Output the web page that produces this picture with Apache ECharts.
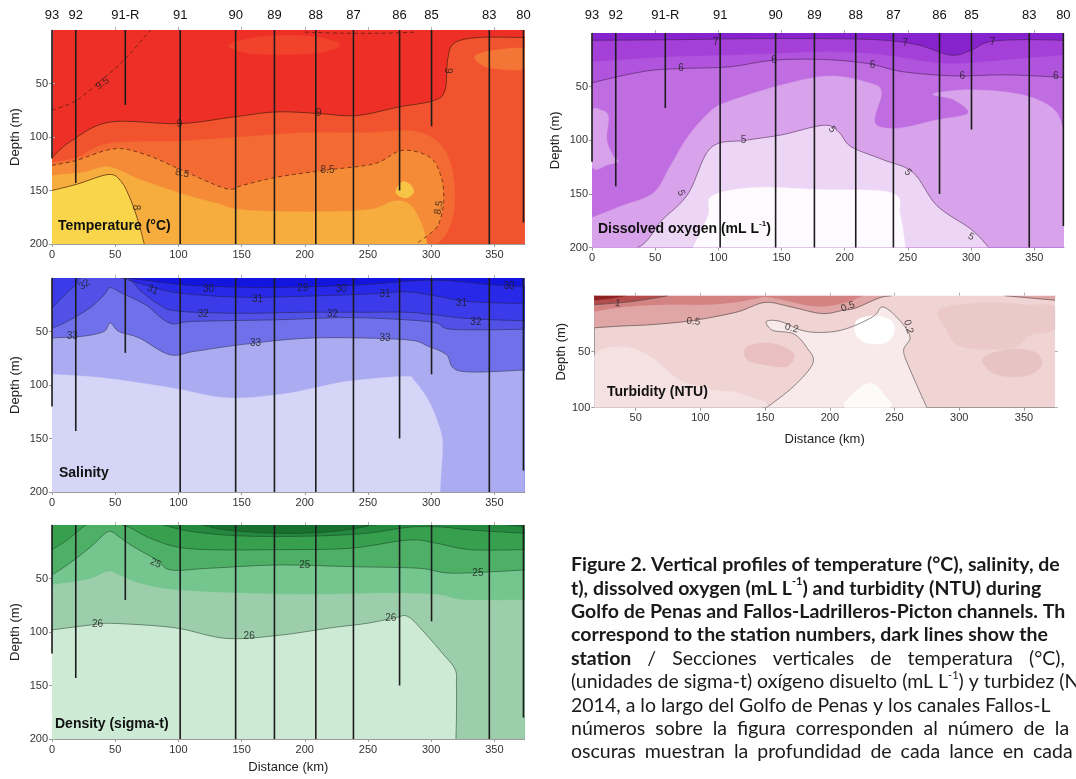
<!DOCTYPE html>
<html><head><meta charset="utf-8">
<script src="https://cdn.jsdelivr.net/npm/echarts@6/dist/echarts.min.js"></script>
<style>html,body{margin:0;padding:0;background:#fff}#c{width:1076px;height:779px}</style>
</head><body><div id="c"></div>
<script>
// ================= DATA =================
// stations (top labels), distance along the section (km) and cast depth (m)
const stationNames = ['93','92','91-R','91','90','89','88','87','86','85','83','80'];
const stationKm    = [0,18.8,58,101.4,145.3,176,208.7,238.5,275,300.3,346,373];
const castDepth    = [120,143,70,200,200,200,200,200,150,90,200,180];
const kmTicks = [0,50,100,150,200,250,300,350];
const depthTicks = [50,100,150,200];
const turbKmTicks = [50,100,150,200,250,300,350];
const turbDepthTicks = [50,100];

// ---- Temperature (°C): isolines as [km, depth m] ----
const tempIso95   = [[0,75],[19,66],[38,48],[57,28],[78,0]];
const tempTopDash = [[200,2],[230,3],[260,3],[288,2]];
const tempPatch1  = [[140,14],[160,7],[190,5],[215,8],[228,14],[212,21],[180,23],[152,21]];
const tempIso9    = [[0,119],[16,103],[46,86],[101,87.5],[145,81],[178,76.5],[211,78],[241,80],[274,72],[302,66],[311,56],[313,28],[318,12.5],[337,7],[374,7]];
const tempPatchR  = [[335,24],[350,19],[374,18],[374,36],[350,36],[338,31]];
const tempB875    = [[0,124],[20,119],[45,106],[100,104],[150,100],[200,96],[250,96],[280,94],[300,100],[312,115],[318,140],[318,170],[312,190],[305,200]];
const tempIso85   = [[0,126.5],[19,122],[49,111],[73,116],[101,130],[137,148],[151,145],[178,137.5],[216,131],[255,125],[277,112.5],[299,119],[308,137.5],[310,159],[307,178],[302,187.5],[288,200]];
const tempB825    = [[0,136],[25,133],[45,128],[70,140],[100,152],[130,162],[150,168],[200,170],[250,168],[270,160],[283,163],[292,180],[297,200]];
const tempPatch86 = [[272,152],[277,142],[284,145],[286,152],[280,157]];
const tempIso8    = [[0,150],[20,144],[45,135],[55,142],[62,158],[68,178],[73,200]];
const tempLabels  = [['9.5',40,50,35],['9',101,88,0],['9',211,78,0],['9',313,38,-90],['8.5',103,134,-12],['8.5',218,131,0],['8.5',306,166,80],['8',66,166,-90]];

// ---- Salinity ----
const salIso30  = [[60,0],[80,3],[100,6],[130,8],[170,9],[210,8],[250,6],[280,3],[300,2],[320,3],[345,6],[374,8]];
const salIso31  = [[55,0],[75,7],[100,14],[150,18],[200,17],[250,15],[280,13],[300,16],[330,22],[374,24]];
const salIso32  = [[0,28],[10,16],[20,5],[24,0],[58,0],[70,12],[85,25],[100,31],[150,33],[200,32],[250,32],[280,32],[300,34],[330,38],[374,40]];
const salIso325 = [[0,47],[13,40],[30,28],[41,16],[46,9],[55,14],[74,25],[93,42],[113,40.5],[179,39],[234,37],[279,39],[304,42],[317,48],[374,48]];
const salIso33  = [[0,56],[24,54.5],[41,50],[46,42],[53,50],[69,56],[93,71.6],[113,68.5],[151.5,62],[207,56],[279,57.6],[298,64],[312,71.6],[323,87],[374,86]];
const salB335   = [[0,90],[41,93.5],[96,103],[138,112],[179,109],[207,103],[234,96.6],[279,92],[287,96.6],[298,115],[305,134],[309,152.6],[308,180],[307,200]];
const salLabels = [['32',25.7,6.2,35],['31',79.6,10.9,-25],['30',123.9,10.9,0],['31',162.6,20.2,0],['29',198.5,9.3,0],['30',228.9,10.9,0],['31',263.5,15,0],['32',119.7,33.6,0],['32',222,33.6,0],['33',16,54.5,0],['33',161,60.7,0],['33',263.5,56,0],['31',324,23.4,0],['32',335.4,41.4,0],['30',361.6,7.8,0]];

// ---- Density (sigma-t) ----
const denIso1   = [[119,0],[138,4.7],[180,7.8],[221,6.2],[248.5,1.5],[257,0],[359,0],[374,4.7]];
const denIso2   = [[88,0],[111,6.2],[152,10.3],[207,10.3],[248.5,7.8],[276,3],[290,1.5],[310,2],[331,4.7],[374,7.8]];
const denIso3   = [[0,23],[12,14],[25,1.5],[28,0],[55.7,0],[75,10.9],[97,20],[124.5,23],[180,23],[235,21.8],[282,14],[304,17],[331,23],[374,23]];
const denIso25  = [[0,46.7],[14,35.8],[31,20],[42,7.8],[47,6.2],[53,10.9],[64,20],[83,32.7],[94,42],[124.5,40.4],[180,37.3],[235,38.9],[290,40.4],[317,45],[374,42]];
const denB255   = [[0,56],[28,51],[44.6,43.5],[53,46.7],[69,54.4],[97,60.7],[152,63.8],[207,65],[262,63.8],[304,65],[326,70],[374,70]];
const denIso26  = [[0,98],[33.6,93],[50,92],[97,96],[138,106],[180,103],[221,96],[248.5,92],[270.6,87],[281.6,85.5],[295,101],[309,120],[319,135],[320,151],[320,179],[319.6,200]];
const denLabels = [['25',82,35.8,-25],['25',200,37.3,0],['25',337,45,0],['26',36,93,0],['26',156,104,0],['26',268,87,0]];

// ---- Dissolved oxygen (mL L-1) ----
const oxyIso7  = [[0,6.8],[68,6.2],[122,5.3],[191,5.3],[232,6.8],[259,11.4],[284,20.7],[300,16],[314,8.3],[341,6.2],[373.5,6.8]];
const oxyB65   = [[0,27],[27,24.7],[68,22],[109,20.7],[150,19],[191,17.6],[232,20.7],[273,28],[300,28],[341,23.8],[373.5,20.7]];
const oxyIso6  = [[0,46.4],[27,39],[48.7,34.6],[73,33],[109,31.5],[144,25.3],[183,24.7],[218,28.4],[245.6,36],[286.6,40],[327.6,39],[373.5,41.4]];
const oxyBlob  = [[0,75],[7.6,72],[13,78],[11.7,99.5],[17,115],[21,119.6],[13,122.7],[0,124]];
const oxyB55   = [[0,172],[24,161],[48.7,149],[62,124],[76,96.4],[95,71.7],[111.6,62.4],[150,48.5],[188,40],[221,47],[229,56],[224,84],[243,88.7],[273,81],[297.5,74.8],[286.6,62.4],[270,56.9],[300,53],[341,57.8],[366,71.7],[373.5,93.4]];
const oxyIso5  = [[0,200],[36,200],[55,175],[76,150],[94,107],[122,100],[150,95],[183,86],[195,92],[205,106],[230,118],[254,130],[273,161],[300,183],[314,200]];
const oxyIso45 = [[80,200],[92,170],[95,152],[128,144],[180,146],[237,149],[244,170],[248,200]];
const oxyLabels = [['7',98,9,0],['7',248,10,0],['7',317,9,0],['6',70.5,33,0],['6',144,25.3,0],['6',222,30,0],['6',293,40,0],['6',367,40,0],['5',120,100,0],['5',190,90,-55],['5',70.5,149,-70],['5',250,130,-50],['5',300,190,-30]];

// ---- Turbidity (NTU) ----
const turbLightLeft = [[18,54],[40,45.5],[61,54],[84,75],[110,84],[130,87],[146,100],[18,100]];
const turbBlobL     = [[136,45.5],[156,42.6],[172,51.5],[167,63],[151,62],[136,57]];
const turbIso02     = [[151,100],[172,81],[187,60],[182,46],[172,34],[156,31],[151,23],[162,23],[182,32],[208,31],[233,19],[241,10],[254,22],[262,37],[257,49],[262,66],[275,100]];
const turbWhite1    = [[221,22],[235,18],[247,22],[250,32],[243,42],[228,42],[220,34]];
const turbWhite2    = [[212,100],[220,85],[232,78],[242,88],[246,100]];
const turbRight1    = [[285,12],[320,6],[350,8],[374,10],[374,30],[355,35],[345,45],[330,48],[300,45],[290,30]];
const turbRight2    = [[318,56],[338,48],[358,50],[364,62],[350,72],[328,70]];
const turbIso05     = [[18,28.6],[40,27],[60,26],[89,23],[110,19],[130,14],[150,6],[170,10],[194,16],[210,13],[220,11],[238,2],[248,0]];
const turbIso05R    = [[335,0],[350,1.5],[374,4]];
const turbB075      = [[18,14],[40,10],[70,8],[100,8],[125,6],[145,2],[150,1],[165,4],[185,9],[200,9],[215,5],[225,0]];
const turbIso1      = [[18,8],[30,7],[45,5.5],[60,3],[75,0]];
const turbB15       = [[18,4],[30,2.5],[42,0]];
const turbLabels    = [['1',36,6.8,-10],['0.5',94.5,23.2,-5],['0.5',214,9.8,20],['0.2',170.5,29,-15],['0.2',260.7,27.7,-75]];

// ---- Caption text ----
const captionLines = [
  [['b','Figure 2. Vertical profiles of temperature (°C), salinity, de']],
  [['b','t), dissolved oxygen (mL L'],['bs','-1'],['b',') and turbidity (NTU) during']],
  [['b','Golfo de Penas and Fallos-Ladrilleros-Picton channels. Th']],
  [['b','correspond to the station numbers, dark lines show the']],
  [['b','station'],['r',' / Secciones verticales de temperatura (°C),']],
  [['r','(unidades de sigma-t) oxígeno disuelto (mL L'],['rs','-1'],['r',') y turbidez (N']],
  [['r','2014, a lo largo del Golfo de Penas y los canales Fallos-L']],
  [['r','números sobre la figura corresponden al número de la']],
  [['r','oscuras muestran la profundidad de cada lance en cada']]
];

// ================= LAYOUT / STYLE =================
const FONT = '"Liberation Sans", Arial, sans-serif';
const CAPFONT = 'Lato, "Open Sans", sans-serif';
const CAPSIZE = 19.5;
const captionGap = [0,0,0,0,16,0,0,10,9];

const panels = [
  { grid:{left:52,top:30,width:472.7,height:214}, xmin:0, xmax:374, dmax:200, bg:'#EE2F27',
    regions:[
      {pts:tempPatch1, close:'loop', color:'#F1432C'},
      {pts:tempIso9, close:['br','bl'], color:'#F1532F'},
      {pts:tempPatchR, close:'loop', color:'#F47636'},
      {pts:tempB875, close:['bl'], color:'#F36B33'},
      {pts:tempIso85, close:['bl'], color:'#F58B37'},
      {pts:tempB825, close:['bl'], color:'#F7AD3E'},
      {pts:tempPatch86, close:'loop', color:'#F8C445'},
      {pts:tempIso8, close:['bl'], color:'#F8D54A'}],
    lines:[{pts:tempIso95,dash:true},{pts:tempTopDash,dash:true},{pts:tempIso9},{pts:tempIso85,dash:true},{pts:tempIso8}],
    lineColor:'rgba(80,25,10,0.8)', labels:tempLabels, stations:true, names:true, nameMargin:8,
    xTicks:kmTicks, yTicks:depthTicks, xName:null },
  { grid:{left:52,top:278,width:472.7,height:214}, xmin:0, xmax:374, dmax:200, bg:'#1414DF',
    regions:[
      {pts:salIso30, close:['br','bl','tl'], color:'#2828E9'},
      {pts:salIso31, close:['br','bl','tl'], color:'#3B3BEA'},
      {pts:salIso32, close:['br','bl'], color:'#5151E7'},
      {pts:salIso325, close:['br','bl'], color:'#7070EA'},
      {pts:salIso33, close:['br','bl'], color:'#ABABF1'},
      {pts:salB335, close:['bl'], color:'#D5D5F7'}],
    lines:[{pts:salIso30},{pts:salIso31},{pts:salIso32},{pts:salIso325},{pts:salIso33}],
    lineColor:'rgba(30,30,70,0.6)', labels:salLabels, stations:true, names:false,
    xTicks:kmTicks, yTicks:depthTicks, xName:null },
  { grid:{left:52,top:525,width:472.7,height:214}, xmin:0, xmax:374, dmax:200, bg:'#17702E',
    regions:[
      {pts:denIso1, close:['br','bl','tl'], color:'#24893E'},
      {pts:denIso2, close:['br','bl','tl'], color:'#36A04F'},
      {pts:denIso3, close:['br','bl'], color:'#4DB066'},
      {pts:denIso25, close:['br','bl'], color:'#74C68E'},
      {pts:denB255, close:['br','bl'], color:'#9DCEAC'},
      {pts:denIso26, close:['bl'], color:'#CDEAD5'}],
    lines:[{pts:denIso1},{pts:denIso2},{pts:denIso3},{pts:denIso25},{pts:denIso26}],
    lineColor:'rgba(20,60,30,0.6)', labels:denLabels, stations:true, names:false,
    xTicks:kmTicks, yTicks:depthTicks, xName:'Distance (km)', xNameGap:22 },
  { grid:{left:592,top:33,width:472,height:214.5}, xmin:0, xmax:373.5, dmax:200, bg:'#8623CD',
    regions:[
      {pts:oxyIso7, close:['br','bl'], color:'#A440D8'},
      {pts:oxyB65, close:['br','bl'], color:'#B154DD'},
      {pts:oxyIso6, close:['br','bl'], color:'#C06DE2'},
      {pts:oxyBlob, close:'loop', color:'#D7A2EA'},
      {pts:oxyB55, close:['br','bl'], color:'#D8A3EA'},
      {pts:oxyIso5, close:[], color:'#EDD5F5'},
      {pts:oxyIso45, close:[], color:'#FEFBFE'}],
    lines:[{pts:oxyIso7},{pts:oxyIso6},{pts:oxyIso5}],
    lineColor:'rgba(60,20,70,0.6)', labels:oxyLabels, stations:true, names:true, nameMargin:11,
    xTicks:kmTicks, yTicks:depthTicks, xName:null },
  { grid:{left:594.3,top:295.7,width:460.7,height:112}, xmin:18, xmax:374, dmax:100, bg:'#F0D3D3',
    regions:[
      {pts:turbLightLeft, close:'loop', color:'#F5E1E1'},
      {pts:turbBlobL, close:'loop', color:'#EABFBF'},
      {pts:turbIso02, close:[], color:'#F8EAEA'},
      {pts:turbWhite1, close:'loop', color:'#FFFFFF'},
      {pts:turbWhite2, close:'loop', color:'#FDFAFA'},
      {pts:turbRight1, close:'loop', color:'#EBC9C9'},
      {pts:turbRight2, close:'loop', color:'#E8C3C3'},
      {pts:turbIso05, close:['tl'], color:'#E0A6A6'},
      {pts:turbIso05R, close:['tr'], color:'#E0A6A6'},
      {pts:turbB075, close:['tl'], color:'#D48383'},
      {pts:turbIso1, close:['tl'], color:'#B44C4C'},
      {pts:turbB15, close:['tl'], color:'#8E2121'}],
    lines:[{pts:turbIso02},{pts:turbIso05},{pts:turbIso05R},{pts:turbIso1}],
    lineColor:'rgba(90,80,80,0.75)', labels:turbLabels, stations:false, names:false,
    xTicks:turbKmTicks, yTicks:turbDepthTicks, xName:'Distance (km)', xNameGap:25 }
];

// ================= RENDER HELPERS =================
function corner(c, p){ return c==='tl'?[p.xmin,0]:c==='tr'?[p.xmax,0]:c==='bl'?[p.xmin,p.dmax]:[p.xmax,p.dmax]; }
function onEdge(a,b,p){
  const e=1e-6;
  return (Math.abs(a[1]-b[1])<e && (Math.abs(a[1])<e || Math.abs(a[1]-p.dmax)<e)) ||
         (Math.abs(a[0]-b[0])<e && (Math.abs(a[0]-p.xmin)<e || Math.abs(a[0]-p.xmax)<e));
}
function fmt(q){ return q[0].toFixed(2)+' '+q[1].toFixed(2); }
function curvePath(dat, pix, loop, p, strokeMode){
  const n = pix.length, T = 1/6;
  const g = i => loop ? pix[(i+n)%n] : pix[Math.max(0,Math.min(n-1,i))];
  let s = 'M'+fmt(pix[0]);
  const segs = loop ? n : n-1;
  for (let i=0;i<segs;i++){
    const a=g(i), b=g(i+1), da=dat[i%n], db=dat[(i+1)%n];
    if (onEdge(da,db,p)) { s += (strokeMode?' M':' L')+fmt(b); continue; }
    const a0=g(i-1), b1=g(i+2);
    const c1=[a[0]+(b[0]-a0[0])*T, a[1]+(b[1]-a0[1])*T];
    const c2=[b[0]-(b1[0]-a[0])*T, b[1]-(b1[1]-a[1])*T];
    s += ' C'+fmt(c1)+' '+fmt(c2)+' '+fmt(b);
  }
  return s;
}

const grids=[], xAxes=[], yAxes=[], series=[];
const axisColor = '#9a9a9a';
panels.forEach((p,k)=>{
  grids.push(Object.assign({show:true, backgroundColor:p.bg, borderWidth:0}, p.grid));
  xAxes.push({gridIndex:k, type:'value', position:'bottom', min:p.xmin, max:p.xmax,
    axisLine:{show:true, onZero:false, lineStyle:{color:axisColor,width:1}},
    axisTick:{show:true, length:3, customValues:p.xTicks, lineStyle:{color:axisColor}},
    axisLabel:{customValues:p.xTicks, fontSize:11, color:'#333', margin:5, fontFamily:FONT},
    splitLine:{show:false},
    name:p.xName||'', nameLocation:'middle', nameGap:p.xNameGap||20,
    nameTextStyle:{fontSize:13, color:'#222', fontFamily:FONT}});
  xAxes.push({gridIndex:k, type:'value', position:'top', min:p.xmin, max:p.xmax,
    axisLine:{show:false},
    axisTick:{show:true, length:3, customValues:p.xTicks.filter(v=>v>p.xmin), lineStyle:{color:'#b0b0b0'}},
    axisLabel: p.names ? {customValues:stationKm, fontSize:13, color:'#111', margin:p.nameMargin, fontFamily:FONT,
        formatter:(v)=>{ const i = stationKm.findIndex(s=>Math.abs(s-v)<1e-6); return i>=0?stationNames[i]:''; }}
      : {show:false},
    splitLine:{show:false}});
  yAxes.push({gridIndex:k, type:'value', inverse:true, min:0, max:p.dmax,
    axisLine:{show:true, onZero:false, lineStyle:{color:axisColor,width:1}},
    axisTick:{show:true, length:3, customValues:p.yTicks, lineStyle:{color:axisColor}},
    axisLabel:{customValues:p.yTicks, fontSize:11, color:'#333', margin:4, fontFamily:FONT},
    splitLine:{show:false},
    name:'Depth (m)', nameLocation:'middle', nameRotate:90, nameGap: k===4?24:30,
    nameTextStyle:{fontSize:13, color:'#222', fontFamily:FONT}});
  yAxes.push({gridIndex:k, type:'value', inverse:true, min:0, max:p.dmax, position:'right',
    axisLine:{show:false},
    axisTick:{show:true, length:3, customValues:p.yTicks, lineStyle:{color:'#b0b0b0'}},
    axisLabel:{show:false}, splitLine:{show:false}});
  const xi = 2*k, yi = 2*k;
  // filled bands
  series.push({type:'custom', xAxisIndex:xi, yAxisIndex:yi, clip:true, silent:true, z:1,
    data:p.regions.map((r,i)=>[p.xmin,i]),
    renderItem:(params, api)=>{
      const r = p.regions[params.dataIndex];
      const loop = r.close==='loop';
      const pix = r.pts.map(q=>api.coord(q));
      let d = curvePath(r.pts, pix, loop, p, false);
      if (!loop) r.close.forEach(c=>{ d += ' L'+fmt(api.coord(corner(c,p))); });
      d += ' Z';
      return {type:'path', shape:{pathData:d}, style:{fill:r.color, stroke:r.color, lineWidth:0.4}};
    }});
  // contour lines
  series.push({type:'custom', xAxisIndex:xi, yAxisIndex:yi, clip:true, silent:true, z:2,
    data:p.lines.map((l,i)=>[p.xmin,i]),
    renderItem:(params, api)=>{
      const l = p.lines[params.dataIndex];
      const pix = l.pts.map(q=>api.coord(q));
      const d = curvePath(l.pts, pix, false, p, true);
      return {type:'path', shape:{pathData:d},
        style:{fill:null, stroke:p.lineColor, lineWidth:0.9, lineDash:l.dash?[4,3]:null}};
    }});
  // station casts
  if (p.stations) series.push({type:'custom', xAxisIndex:xi, yAxisIndex:yi, clip:false, silent:true, z:4,
    data:stationKm.map((s,i)=>[s, castDepth[i]]),
    renderItem:(params, api)=>{
      const a = api.coord([api.value(0), 0]), b = api.coord([api.value(0), api.value(1)]);
      return {type:'line', shape:{x1:a[0],y1:a[1],x2:b[0],y2:b[1]}, style:{stroke:'#1c1c1c', lineWidth:1.6}};
    }});
  // contour labels
  series.push({type:'scatter', xAxisIndex:xi, yAxisIndex:yi, silent:true, z:5, symbolSize:1,
    itemStyle:{color:'rgba(0,0,0,0)'},
    label:{show:true, position:'inside', fontSize:10, color:'#1a1a1a', fontFamily:FONT},
    data:p.labels.map(l=>({value:[l[1],l[2]], label:{formatter:l[0], rotate:l[3]}}))});
});

// ---- titles: panel names and caption ----
const titles = [];
function panelTitle(text, left, cy){
  titles.push({text, left, top:cy-9, padding:0,
    textStyle:{fontSize:14, fontWeight:'bold', color:'#111', fontFamily:FONT, lineHeight:18,
      rich:{s:{fontSize:8, fontWeight:'bold', color:'#111', fontFamily:FONT, verticalAlign:'top', lineHeight:10}}}});
}
panelTitle('Temperature (°C)', 58, 226);
panelTitle('Salinity', 59, 473);
panelTitle('Density (sigma-t)', 55, 724);
panelTitle('Dissolved oxygen (mL L{s|-1})', 598, 229);
panelTitle('Turbidity (NTU)', 607, 392);

const capRich = {
  b:{fontFamily:CAPFONT, fontSize:CAPSIZE, fontWeight:'bold', color:'#1a1a1a', lineHeight:24},
  r:{fontFamily:CAPFONT, fontSize:CAPSIZE, fontWeight:'normal', color:'#1a1a1a', lineHeight:24},
  bs:{fontFamily:CAPFONT, fontSize:11, fontWeight:'bold', color:'#1a1a1a', verticalAlign:'top', lineHeight:14},
  rs:{fontFamily:CAPFONT, fontSize:11, fontWeight:'normal', color:'#1a1a1a', verticalAlign:'top', lineHeight:14}
};
captionLines.forEach((segs,i)=>{
  const gap = captionGap[i];
  const rich = Object.assign({}, capRich);
  let txt = '';
  segs.forEach(([st, t])=>{
    if (gap) {
      const sw = 'g'+st; rich[sw] = Object.assign({}, capRich[st], {width:gap});
      t.split(' ').forEach((w,j)=>{ if (j>0) txt += '{'+sw+'| }'; if (w) txt += '{'+st+'|'+w+'}'; });
    } else txt += '{'+st+'|'+t+'}';
  });
  titles.push({text:txt, left:571, top:565+i*23.4-12, padding:0,
    textStyle:{fontFamily:CAPFONT, fontSize:CAPSIZE, lineHeight:24, rich}});
});

const chart = echarts.init(document.getElementById('c'), null, {renderer:'canvas'});
chart.setOption({
  backgroundColor:'#ffffff', animation:false,
  title:titles, grid:grids, xAxis:xAxes, yAxis:yAxes, series
});
</script></body></html>
